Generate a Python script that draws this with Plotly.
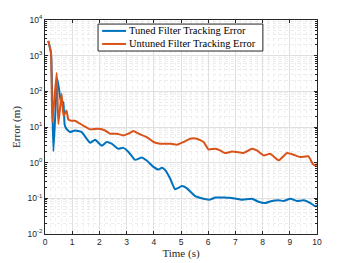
import plotly.graph_objects as go

# Tuned filter tracking error (blue)
t_tuned = [0.12, 0.22, 0.31, 0.45, 0.52, 0.58, 0.67, 0.72, 0.78, 0.92, 1.1, 1.35, 1.55, 1.66, 1.84,
           2.09, 2.27, 2.45, 2.70, 2.88, 3.07, 3.31, 3.56, 3.74, 3.99, 4.17, 4.30, 4.42, 4.60, 4.78,
           5.03, 5.22, 5.52, 5.83, 6.07, 6.26, 6.56, 6.87, 7.18, 7.30, 7.61, 7.85, 8.10, 8.34, 8.59,
           8.77, 9.02, 9.26, 9.51, 9.75, 9.94, 10.0]
e_tuned = [2600, 1200, 2.1, 230, 110, 55, 50, 12, 9, 7.2, 8, 7.2, 4.5, 3.6, 4.4,
           3.0, 3.8, 3.4, 2.45, 2.6, 2.0, 1.2, 1.4, 1.15, 0.76, 0.64, 0.72, 0.62, 0.36, 0.18,
           0.22, 0.19, 0.115, 0.098, 0.092, 0.105, 0.105, 0.102, 0.093, 0.092, 0.098, 0.08, 0.074, 0.084, 0.088,
           0.084, 0.098, 0.084, 0.088, 0.074, 0.06, 0.063]

# Untuned filter tracking error (orange)
t_untuned = [0.12, 0.22, 0.27, 0.43, 0.49, 0.61, 0.68, 0.79, 0.86, 0.96, 1.1, 1.4, 1.66, 1.96,
             2.21, 2.39, 2.64, 2.88, 3.07, 3.25, 3.44, 3.74, 3.99, 4.23, 4.60, 4.85, 5.09, 5.34,
             5.58, 5.83, 6.01, 6.26, 6.44, 6.62, 6.87, 7.05, 7.30, 7.61, 7.79, 8.04, 8.28, 8.59,
             8.90, 9.14, 9.38, 9.69, 9.84, 9.94, 10.0]
e_untuned = [2600, 1200, 14, 330, 12, 85, 20, 29, 16, 15, 15, 11, 8.6, 8.9,
             8.0, 6.5, 6.5, 5.8, 6.5, 7.7, 6.5, 5.2, 3.8, 3.4, 3.4, 3.2, 3.8, 4.7,
             4.7, 3.8, 2.35, 2.45, 2.2, 1.86, 2.05, 1.98, 1.86, 2.45, 2.2, 1.6, 1.78, 1.16,
             1.86, 1.66, 1.44, 1.5, 0.93, 0.84, 0.93]

series_names = ["Tuned Filter Tracking Error", "Untuned Filter Tracking Error"]
series_colors = ["#0072BD", "#D95319"]

x_ticks = [0, 1, 2, 3, 4, 5, 6, 7, 8, 9, 10]
y_tickvals = [0.01, 0.1, 1, 10, 100, 1000, 10000]
y_ticktext = ["10<sup>-2</sup>", "10<sup>-1</sup>", "10<sup>0</sup>", "10<sup>1</sup>",
              "10<sup>2</sup>", "10<sup>3</sup>", "10<sup>4</sup>"]

SERIF = "Liberation Serif"
SANS = "Liberation Sans"
INK = "#262626"

fig = go.Figure()
for tx, ey, nm, col in [(t_tuned, e_tuned, series_names[0], series_colors[0]),
                        (t_untuned, e_untuned, series_names[1], series_colors[1])]:
    fig.add_trace(go.Scatter(x=tx, y=ey, mode="lines", name=nm,
                             line=dict(color=col, width=2, shape="spline", smoothing=0.4)))

axis_common = dict(showline=True, linecolor=INK, linewidth=1, mirror="allticks",
                   ticks="inside", ticklen=3, tickcolor=INK, automargin=False,
                   showgrid=True, gridcolor="#E0E0E0", gridwidth=1, zeroline=False,
                   tickfont=dict(family=SANS, size=8.5, color=INK))

fig.update_xaxes(range=[0, 10], tickvals=x_ticks, **axis_common,
                 minor=dict(dtick=0.2, showgrid=True, gridcolor="#EFEFEF", griddash="dot", ticks=""),
                 title=dict(text="Time (s)", standoff=2,
                            font=dict(family=SERIF, size=11, color=INK)))
fig.update_yaxes(type="log", range=[-2, 4], tickvals=y_tickvals, ticktext=y_ticktext, **axis_common,
                 minor=dict(dtick="D1", showgrid=True, gridcolor="#EDEDED", griddash="dot",
                            ticks="inside", ticklen=2, tickcolor=INK),
                 title=dict(text="Error (m)", standoff=4,
                            font=dict(family=SERIF, size=11, color=INK)))

# Legend box drawn in paper coordinates (MATLAB-style compact legend)
lx0, lx1, ly0, ly1 = 0.195, 0.801, 0.855, 0.981
row_y = [0.949, 0.888]
shapes = [dict(type="rect", xref="paper", yref="paper", x0=lx0, x1=lx1, y0=ly0, y1=ly1,
               line=dict(color=INK, width=1), fillcolor="white", layer="above")]
annotations = []
for ry, nm, col in zip(row_y, series_names, series_colors):
    shapes.append(dict(type="line", xref="paper", yref="paper", x0=0.210, x1=0.298, y0=ry, y1=ry,
                       line=dict(color=col, width=2), layer="above"))
    annotations.append(dict(xref="paper", yref="paper", x=0.303, y=ry, text=nm, showarrow=False,
                            xanchor="left", yanchor="middle",
                            font=dict(family=SERIF, size=10.5, color="#000000")))

# page body adds an 8px offset, so the figure is sized to fit the 350x263 window
fig.update_layout(
    width=342, height=255,
    margin=dict(l=37, r=33, t=12, b=29),
    paper_bgcolor="white", plot_bgcolor="white",
    showlegend=False,
    shapes=shapes, annotations=annotations,
)

fig.write_html("out.html")
